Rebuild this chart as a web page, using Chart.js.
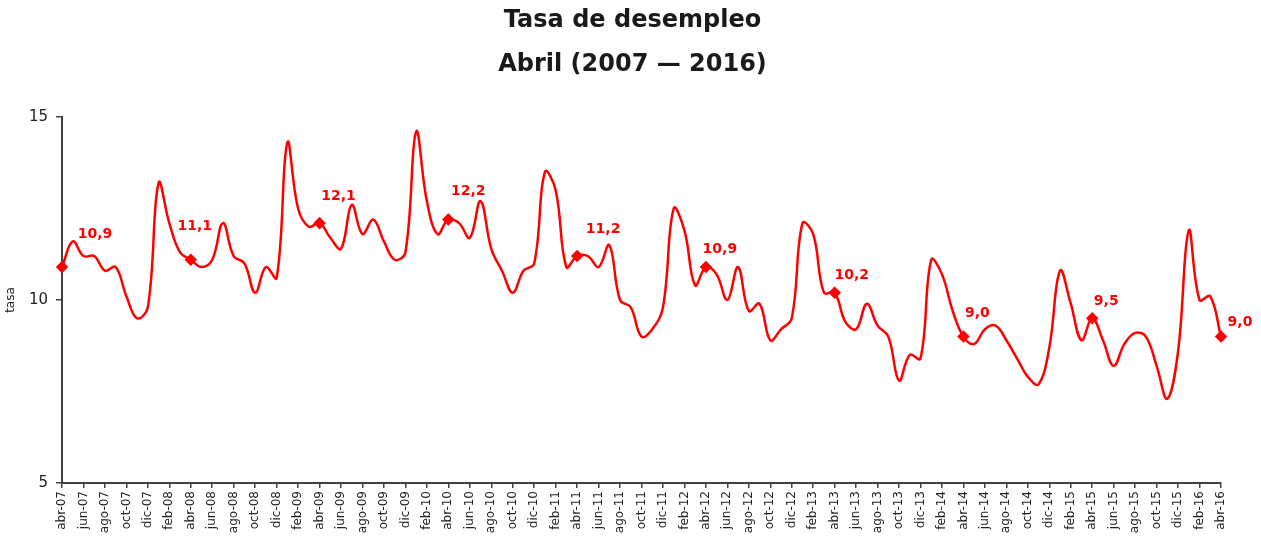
<!DOCTYPE html>
<html lang="es">
<head>
    <meta charset="UTF-8">
    <title>Tasa de desempleo</title>
    <style>
        html, body { margin: 0; padding: 0; background: #fff; }
        #wrap { width: 1261px; height: 549px; position: relative; }
    </style>
</head>
<body>
    <div id="wrap"><canvas id="chart"></canvas></div>
    <script src="https://cdn.jsdelivr.net/npm/chart.js@4.4.1/dist/chart.umd.min.js"></script>
    <script>
        // monthly series, abr-07 .. abr-16
        const monthNames = ['ene','feb','mar','abr','may','jun','jul','ago','sep','oct','nov','dic'];
        const startYear = 2007, startMonth = 3, monthCount = 109;

        const tasa = [
            10.9, 11.6, 11.2, 11.2, 10.8, 10.9, 10.1, 9.5, 9.8,        // abr-07 .. dic-07
            13.2, 12.1, 11.3, 11.1, 10.9, 11.1, 12.1, 11.2, 11.0, 10.2, 10.9, 10.6,  // 2008
            14.3, 12.5, 12.0, 12.1, 11.7, 11.4, 12.6, 11.8, 12.2, 11.6, 11.1, 11.3,  // 2009
            14.6, 12.7, 11.8, 12.2, 12.1, 11.7, 12.7, 11.4, 10.8, 10.2, 10.8, 11.0,  // 2010
            13.5, 13.0, 10.9, 11.2, 11.2, 10.9, 11.5, 10.0, 9.8, 9.0, 9.2, 9.8,      // 2011
            12.5, 11.9, 10.4, 10.9, 10.7, 10.0, 10.9, 9.7, 9.9, 8.9, 9.2, 9.5,       // 2012
            12.1, 11.8, 10.2, 10.2, 9.4, 9.2, 9.9, 9.3, 9.0, 7.8, 8.5, 8.4,          // 2013
            11.1, 10.7, 9.7, 9.0, 8.8, 9.2, 9.3, 8.9, 8.4, 7.9, 7.7, 8.7,            // 2014
            10.8, 9.9, 8.9, 9.5, 8.9, 8.2, 8.8, 9.1, 9.0, 8.2, 7.3, 8.6,             // 2015
            11.9, 10.0, 10.1, 9.0                                                    // ene-16 .. abr-16
        ];
        const yTicks = [5, 10, 15];
        const titleLines = ['Tasa de desempleo', 'Abril (2007 \u2014 2016)'];

        const categories = [];
        for (let i = 0; i < monthCount; i++) {
            const m = (startMonth + i) % 12;
            const y = startYear + Math.floor((startMonth + i) / 12);
            categories.push(monthNames[m] + '-' + String(y).slice(2));
        }

        const isApril = i => categories[i].startsWith('abr');
        const axisColor = '#404040';
        const red = '#ff0000';
        const font = '"DejaVu Sans", Verdana, sans-serif';

        // title centred on the whole page, not on the plot box
        const pageTitle = {
            id: 'pageTitle',
            beforeDraw(chart) {
                const ctx = chart.ctx;
                ctx.save();
                ctx.font = 'bold 24px ' + font;
                ctx.fillStyle = '#1a1a1a';
                ctx.textAlign = 'center';
                ctx.textBaseline = 'middle';
                titleLines.forEach((t, k) => ctx.fillText(t, chart.width / 2 + 2, 21 + k * 44));
                ctx.restore();
            }
        };

        // value labels next to the april markers (label nudges copied from the original layout)
        const labelNudge = [[33, -33], [4, -33], [19, -27], [20, -28], [26, -27],
                            [14, -18], [17, -17], [14, -23], [14, -17], [19, -14]];
        const aprilLabels = {
            id: 'aprilLabels',
            afterDatasetsDraw(chart) {
                const meta = chart.getDatasetMeta(0);
                const ctx = chart.ctx;
                ctx.save();
                ctx.font = 'bold 14px ' + font;
                ctx.fillStyle = red;
                ctx.textAlign = 'center';
                ctx.textBaseline = 'middle';
                let k = 0;
                meta.data.forEach((pt, i) => {
                    if (!isApril(i)) return;
                    const [dx, dy] = labelNudge[k++] || [17, -24];
                    const txt = tasa[i].toFixed(1).replace('.', ',');
                    ctx.fillText(txt, pt.x + dx, pt.y + dy);
                });
                ctx.restore();
            }
        };

        new Chart(document.getElementById('chart'), {
            type: 'line',
            data: {
                labels: categories,
                datasets: [{
                    data: tasa,
                    borderColor: red,
                    backgroundColor: red,
                    borderWidth: 2.5,
                    tension: 0.4,
                    pointStyle: 'rectRot',
                    pointRadius: ctx => isApril(ctx.dataIndex) ? 4.5 : 0,
                    pointHoverRadius: 0,
                    fill: false
                }]
            },
            options: {
                responsive: true,
                maintainAspectRatio: false,
                animation: false,
                layout: { padding: { left: 0, right: 40, top: 117, bottom: 0 } },
                plugins: {
                    legend: { display: false },
                    tooltip: { enabled: false },
                    title: { display: false }
                },
                scales: {
                    x: {
                        type: 'category',
                        offset: false,
                        afterFit: s => { s.height = 66; },
                        grid: { drawOnChartArea: false, tickLength: 5, color: axisColor, lineWidth: 1.5 },
                        border: { display: true, color: axisColor, width: 2 },
                        ticks: {
                            autoSkip: false,
                            minRotation: 90,
                            maxRotation: 90,
                            padding: 3,
                            color: '#222',
                            font: { family: font, size: 12 },
                            callback: function (v, i) { return i % 2 === 0 ? categories[i] : null; }
                        }
                    },
                    y: {
                        min: 5,
                        max: 15,
                        afterFit: s => { s.width = 62; },
                        afterBuildTicks: s => { s.ticks = yTicks.map(v => ({ value: v })); },
                        grid: { drawOnChartArea: false, tickLength: 6, color: axisColor, lineWidth: 1.5 },
                        border: { display: true, color: axisColor, width: 2 },
                        ticks: {
                            padding: 8,
                            color: '#222',
                            font: { family: font, size: 15 }
                        },
                        title: {
                            display: true,
                            text: 'tasa',
                            color: '#222',
                            font: { family: font, size: 12 },
                            padding: { top: 4, bottom: 0 }
                        }
                    }
                }
            },
            plugins: [pageTitle, aprilLabels]
        });
    </script>
</body>
</html>
